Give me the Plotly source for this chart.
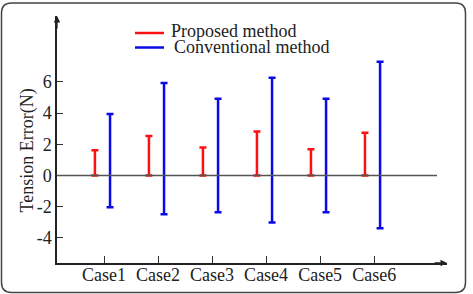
import plotly.graph_objects as go

cases = ["Case1", "Case2", "Case3", "Case4", "Case5", "Case6"]
proposed_low = [0, 0, 0, 0, 0, 0]
proposed_high = [1.62, 2.53, 1.80, 2.81, 1.68, 2.74]
conventional_low = [-2.04, -2.49, -2.36, -3.02, -2.36, -3.39]
conventional_high = [3.94, 5.93, 4.92, 6.27, 4.92, 7.28]
y_ticks = [-4, -2, 0, 2, 4, 6]
y_tick_labels = ["-4", "-2", "0", "2", "4", "6"]

FONT = "Liberation Serif, Times New Roman, serif"
FS = 18
TXT = "#222222"
RED = "#ff1010"
BLUE = "#0a0ae6"

W, H = 473, 294
ML, MR, MT, MB = 57, 26, 16, 31
PW, PH = W - ML - MR, H - MT - MB

def px(x):
    return (x - ML) / PW

def py(y):
    return (H - MB - y) / PH

idx = list(range(1, len(cases) + 1))
red_x = [i - 0.17 for i in idx]
blue_x = [i + 0.11 for i in idx]

fig = go.Figure()
fig.add_trace(go.Scatter(
    x=red_x, y=proposed_low, mode="markers", name="Proposed method",
    marker=dict(size=1, opacity=0),
    error_y=dict(type="data", symmetric=False,
                 array=[h - l for h, l in zip(proposed_high, proposed_low)],
                 arrayminus=[0] * len(cases), color=RED, thickness=2.5, width=3.5),
    showlegend=False, hoverinfo="skip"))
fig.add_trace(go.Scatter(
    x=blue_x, y=conventional_low, mode="markers", name="Conventional method",
    marker=dict(size=1, opacity=0),
    error_y=dict(type="data", symmetric=False,
                 array=[h - l for h, l in zip(conventional_high, conventional_low)],
                 arrayminus=[0] * len(cases), color=BLUE, thickness=2.5, width=3.5),
    showlegend=False, hoverinfo="skip"))

shapes = []
# zero line
shapes.append(dict(type="line", xref="paper", yref="y", x0=0, x1=px(437), y0=0, y1=0,
                   line=dict(color="#555555", width=1.5)))
# legend lines
shapes.append(dict(type="line", xref="paper", yref="paper", x0=px(135), x1=px(164),
                   y0=py(33), y1=py(33), line=dict(color=RED, width=2.5)))
shapes.append(dict(type="line", xref="paper", yref="paper", x0=px(135), x1=px(164),
                   y0=py(47.5), y1=py(47.5), line=dict(color=BLUE, width=2.5)))
# rounded frame
x0, x1, y0, y1, r = 1.5, 465.5, 3, 292.5, 10
path = (f"M {px(x0 + r)},{py(y0)} L {px(x1 - r)},{py(y0)} "
        f"Q {px(x1)},{py(y0)} {px(x1)},{py(y0 + r)} "
        f"L {px(x1)},{py(y1 - r)} Q {px(x1)},{py(y1)} {px(x1 - r)},{py(y1)} "
        f"L {px(x0 + r)},{py(y1)} Q {px(x0)},{py(y1)} {px(x0)},{py(y1 - r)} "
        f"L {px(x0)},{py(y0 + r)} Q {px(x0)},{py(y0)} {px(x0 + r)},{py(y0)} Z")
shapes.append(dict(type="path", xref="paper", yref="paper", path=path,
                   line=dict(color="#444444", width=1.5)))

annotations = [
    dict(text="Proposed method", xref="paper", yref="paper", x=px(169), y=py(31.5),
         xanchor="left", yanchor="middle", showarrow=False, font=dict(family=FONT, size=FS, color=TXT)),
    dict(text="Conventional method", xref="paper", yref="paper", x=px(172), y=py(47),
         xanchor="left", yanchor="middle", showarrow=False, font=dict(family=FONT, size=FS, color=TXT)),
    dict(text="Tension Error(N)", xref="paper", yref="paper", x=px(27), y=py(150.5),
         xanchor="center", yanchor="middle", textangle=-90, showarrow=False,
         font=dict(family=FONT, size=FS, color=TXT)),
    # axis arrows
    dict(xref="paper", yref="paper", x=0, y=1, ax=0, ay=14, text="", showarrow=True,
         arrowhead=2, arrowsize=1, arrowwidth=1.3, arrowcolor="#222222"),
    dict(xref="paper", yref="paper", x=1, y=0, ax=-14, ay=0, text="", showarrow=True,
         arrowhead=2, arrowsize=1, arrowwidth=1.3, arrowcolor="#222222"),
]

fig.update_layout(
    width=W, height=H,
    margin=dict(l=ML, r=MR, t=MT, b=MB, pad=0),
    paper_bgcolor="white", plot_bgcolor="white",
    font=dict(family=FONT, size=FS, color=TXT),
    shapes=shapes, annotations=annotations,
    xaxis=dict(range=[0.128, 7.349], tickvals=idx, ticktext=cases, ticks="inside",
               ticklen=7, tickwidth=1.3, tickcolor="#333333", showline=True,
               linecolor="#222222", linewidth=1.5, showgrid=False, zeroline=False,
               automargin=False, ticklabelstandoff=-5,
               tickfont=dict(family=FONT, size=FS, color=TXT)),
    yaxis=dict(range=[-5.61, 10.22], tickvals=y_ticks, ticktext=y_tick_labels,
               ticks="inside", ticklen=6,
               tickwidth=1.3, tickcolor="#333333", showline=True, linecolor="#222222",
               linewidth=1.5, showgrid=False, zeroline=False, automargin=False,
               tickfont=dict(family=FONT, size=FS, color=TXT)),
)

fig.write_html("out.html")
